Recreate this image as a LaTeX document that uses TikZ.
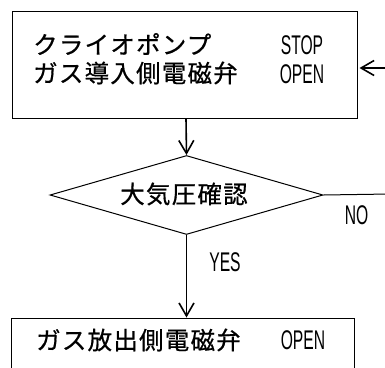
\documentclass[tikz,border=0pt]{standalone}
\usepackage{fontspec}
\usetikzlibrary{shapes.geometric,arrows.meta}
\newfontfamily\jpfont[LetterSpace=5,FakeBold=0.6]{Noto Sans CJK JP}
\newfontfamily\latn{Liberation Sans}
\tikzset{
  box/.style={draw, line width=1pt, inner sep=0pt},
  jp/.style={font=\jpfont\fontsize{24.5pt}{25pt}\selectfont, inner sep=0pt},
  lt/.style={font=\latn\fontsize{27pt}{27pt}\selectfont, inner sep=0pt, xscale=0.58, transform shape},
  flow/.style={line width=1.6pt, -{Straight Barb[length=13pt,width=15pt,line width=1.6pt]}},
}
\begin{document}
\begin{tikzpicture}[x=1pt,y=-1pt]
\useasboundingbox (0,0) rectangle (385,367);
% top box
\node[box, minimum width=345pt, minimum height=107pt] (top) at (184.5,64.5) {};
\node[jp, anchor=west] (t1) at (33,44) {クライオポンプ};
\node[lt] (t1b) at (302,45) {STOP};
\node[jp, anchor=west] (t2) at (33,73) {ガス導入側電磁弁};
\node[lt] (t2b) at (302,74) {OPEN};
% diamond
\node[draw, line width=1pt, diamond, minimum width=273pt, minimum height=79pt, inner sep=0pt] (dec) at (186.5,195) {};
\node[jp] (dect) at (184,194) {大気圧確認};
% bottom box
\node[box, minimum width=343pt, minimum height=90pt] (bot) at (182.5,363) {};
\node[jp, anchor=west] (b1) at (36,340) {ガス放出側電磁弁};
\node[lt] (b1b) at (303,340) {OPEN};
% labels
\node[lt] (no) at (356.5,215) {NO};
\node[lt] (yes) at (225,262) {YES};
% connectors
\coordinate (inR) at (390,68);
\coordinate (outR) at (390,194);
\draw[flow] (top.south -| 186,0) -- (dec.north);
\draw[flow] (dec.south) -- (bot.north -| dec.south);
\draw[flow, shorten >=2pt] (inR) -- (inR -| top.east);
\draw[line width=1pt] (dec.east) -- (outR);
\end{tikzpicture}
\end{document}
